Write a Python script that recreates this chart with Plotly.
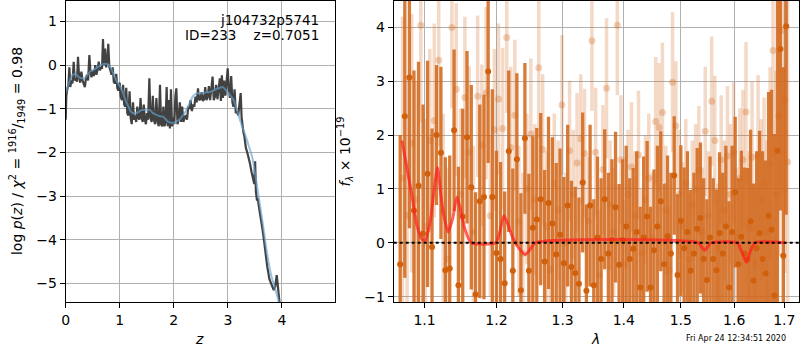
import plotly.graph_objects as go

# ---------------- left panel: log p(z) ----------------
z_pdf = [0.000, 0.012, 0.030, 0.050, 0.068, 0.085, 0.105, 0.125, 0.148, 0.168,
         0.188, 0.208, 0.228, 0.248, 0.268, 0.290, 0.312, 0.335, 0.355, 0.375,
         0.395, 0.415, 0.438, 0.458, 0.478, 0.500, 0.520, 0.548, 0.568, 0.590,
         0.612, 0.632, 0.652, 0.672, 0.690, 0.708, 0.728, 0.748, 0.768, 0.788,
         0.808, 0.828, 0.848, 0.870, 0.890, 0.910, 0.935, 0.955, 0.975, 0.998,
         1.018, 1.040, 1.062, 1.082, 1.102, 1.120, 1.140, 1.160, 1.182, 1.202,
         1.222, 1.245, 1.265, 1.285, 1.305, 1.325, 1.345, 1.365, 1.385, 1.405,
         1.425, 1.445, 1.465, 1.485, 1.505, 1.525, 1.548, 1.568, 1.590, 1.612,
         1.632, 1.655, 1.678, 1.700, 1.722, 1.745, 1.765, 1.785, 1.808, 1.828,
         1.848, 1.868, 1.888, 1.908, 1.928, 1.948, 1.968, 1.988, 2.010, 2.030,
         2.048, 2.068, 2.090, 2.112, 2.135, 2.155, 2.178, 2.200, 2.222, 2.245,
         2.268, 2.290, 2.310, 2.335, 2.358, 2.380, 2.402, 2.425, 2.448, 2.470,
         2.492, 2.515, 2.538, 2.560, 2.582, 2.605, 2.628, 2.650, 2.672, 2.695,
         2.718, 2.740, 2.762, 2.785, 2.808, 2.830, 2.852, 2.872, 2.890, 2.910,
         2.932, 2.955, 2.975, 2.998, 3.018, 3.040, 3.062, 3.085, 3.105, 3.125,
         3.148, 3.170, 3.192, 3.215, 3.238, 3.255, 3.270, 3.290, 3.305, 3.315,
         3.335, 3.360, 3.385, 3.410, 3.440, 3.470, 3.490, 3.505, 3.520, 3.540,
         3.555, 3.570, 3.590, 3.610, 3.640, 3.670, 3.700, 3.730, 3.770, 3.800,
         3.830, 3.850, 3.875, 3.905, 3.925, 3.945, 3.970]
logp_pdf = [-1.25, -0.70, -0.55, -0.45, -0.05, -0.50, -0.35, -0.42, 0.08, -0.35,
            -0.30, -0.38, 0.19, -0.28, -0.40, -0.15, -0.35, -0.45, -0.50, -0.30,
            -0.22, -0.35, 0.23, -0.15, -0.28, -0.12, -0.25, 0.00, -0.22, -0.10,
            0.08, -0.12, -0.05, -0.08, 0.60, 0.00, 0.38, -0.05, 0.10, 0.49,
            -0.05, -0.12, -0.22, -0.05, -0.38, -0.42, -0.20, -0.52, -0.58, -0.40,
            -0.72, -0.80, -0.45, -0.90, -0.95, -0.52, -1.10, -1.15, -0.60, -1.20,
            -1.35, -0.85, -1.25, -1.15, -1.30, -0.95, -1.20, -1.25, -0.75, -1.20,
            -1.30, -0.90, -1.25, -1.35, -1.10, -1.25, -0.30, -1.20, -1.30, -0.70,
            -1.25, -1.35, -0.75, -1.30, -1.40, -0.45, -1.35, -1.40, -0.95, -1.40,
            -1.30, -0.50, -1.40, -0.80, -1.45, -0.55, -1.40, -1.20, -1.35, -0.70,
            -0.53, -1.35, -1.25, -0.85, -1.30, -0.95, -1.30, -1.20, -1.15, -1.25,
            -0.95, -1.00, -0.80, -1.05, -0.90, -0.95, -0.72, -0.85, -0.53, -0.80,
            -0.78, -0.62, -0.82, -0.78, -0.50, -0.80, -0.72, -0.48, -0.80, -0.55,
            -0.26, -0.80, -0.72, -0.45, -0.78, -0.55, -0.30, -0.82, -0.23, -0.75,
            -0.35, -0.70, -0.45, -0.07, -0.55, -0.75, -0.25, -0.85, -0.95, -0.55,
            -1.10, -1.05, -1.15, -0.95, -0.64, -1.20, -1.40, -1.55, -1.62, -1.78,
            -1.90, -2.00, -2.10, -2.25, -2.45, -2.65, -2.72, -2.20, -2.90, -3.10,
            -3.05, -3.20, -3.35, -3.45, -3.75, -4.02, -4.35, -4.62, -4.90, -5.00,
            -5.12, -5.15, -5.08, -4.81, -5.05, -5.25, -5.60]

z_smooth = [0.00, 0.05, 0.10, 0.15, 0.20, 0.25, 0.30, 0.35, 0.40, 0.45,
            0.50, 0.55, 0.60, 0.65, 0.70, 0.75, 0.80, 0.85, 0.90, 0.95,
            1.00, 1.05, 1.10, 1.15, 1.20, 1.25, 1.30, 1.35, 1.40, 1.45,
            1.50, 1.55, 1.60, 1.65, 1.70, 1.75, 1.80, 1.85, 1.90, 1.95,
            2.00, 2.05, 2.10, 2.15, 2.20, 2.25, 2.30, 2.35, 2.40, 2.45,
            2.50, 2.55, 2.60, 2.65, 2.70, 2.75, 2.80, 2.85, 2.90, 2.95,
            3.00, 3.05, 3.10, 3.15, 3.20, 3.25, 3.30, 3.35, 3.40, 3.45,
            3.50, 3.55, 3.60, 3.65, 3.70, 3.75, 3.80, 3.85, 3.90, 3.95, 4.00]
logp_smooth = [-0.65, -0.45, -0.28, -0.20, -0.22, -0.28, -0.30, -0.30, -0.22, -0.15,
               -0.12, -0.08, -0.04, 0.00, 0.03, 0.03, 0.00, -0.10, -0.25, -0.38,
               -0.48, -0.60, -0.78, -0.92, -1.05, -1.10, -1.10, -1.07, -1.03, -1.02,
               -1.03, -1.02, -1.08, -1.12, -1.15, -1.17, -1.18, -1.24, -1.30, -1.32,
               -1.32, -1.28, -1.25, -1.18, -1.10, -0.98, -0.85, -0.72, -0.66, -0.64,
               -0.64, -0.64, -0.62, -0.62, -0.60, -0.57, -0.54, -0.52, -0.50, -0.55,
               -0.62, -0.70, -0.78, -0.95, -1.15, -1.35, -1.52, -1.70, -1.90, -2.10,
               -2.45, -2.85, -3.25, -3.65, -4.10, -4.48, -4.80, -5.02, -5.22, -5.45, -5.65]

# ---------------- right panel: spectrum ----------------
lam_a = [1.068, 1.074, 1.080, 1.086, 1.092, 1.098, 1.104, 1.110, 1.116, 1.122,
         1.128, 1.134, 1.140, 1.146, 1.152, 1.158, 1.164, 1.170, 1.176, 1.182,
         1.188, 1.194, 1.200, 1.206, 1.212, 1.218, 1.224, 1.230, 1.236, 1.242,
         1.248, 1.254, 1.260, 1.266, 1.272, 1.278, 1.284, 1.290, 1.296, 1.302,
         1.308, 1.314, 1.320, 1.326, 1.332, 1.338, 1.344, 1.350, 1.356, 1.362,
         1.368, 1.374, 1.380, 1.386, 1.392, 1.398, 1.404, 1.410, 1.416, 1.422,
         1.428, 1.434, 1.440, 1.446, 1.452, 1.458, 1.464, 1.470, 1.476, 1.482,
         1.488, 1.494, 1.500, 1.506, 1.512, 1.518, 1.524, 1.530, 1.536, 1.542,
         1.548, 1.554, 1.560, 1.566, 1.572, 1.578, 1.584, 1.590, 1.596, 1.602,
         1.608, 1.614, 1.620, 1.626, 1.632, 1.638, 1.644, 1.650, 1.656, 1.662,
         1.668, 1.674, 1.680, 1.686, 1.692, 1.698, 1.704]
flux_a = [-0.40, 2.35, 3.07, 0.60, 1.06, 0.17, 1.28, -0.08, 2.00, 1.67,
          -0.51, -0.48, 2.09, -0.79, 0.49, 1.96, 1.03, -0.96, 0.77, 0.85,
          3.18, 0.85, -0.19, -0.30, -0.75, 1.70, -0.52, 1.55, -0.88, 1.94,
          -0.52, 0.28, 0.43, 0.81, -0.35, 0.74, 0.36, -0.22, 0.15, -0.38,
          0.69, -0.45, -0.56, -0.76, 1.12, -0.89, 0.69, -0.79, 0.10, -0.30,
          0.81, -0.20, 0.05, 0.66, -0.41, 0.05, 0.30, -0.30, -0.11, 0.20,
          -0.83, 0.10, 0.49, -0.83, -0.14, 0.30, 0.77, -0.40, 0.12, -0.20,
          1.25, -0.60, 0.41, -0.10, 0.20, -0.52, -0.20, 0.26, 0.46, -0.30,
          -0.69, 0.10, -0.30, -0.51, 0.18, -0.20, 0.30, -0.83, 0.20, 0.94,
          -0.40, 0.11, -0.20, -0.31, 0.40, -0.70, -0.10, 0.18, -0.30, -0.57,
          0.50, 0.24, -0.98, 1.71, 3.60, -0.24, 4.02]
err_a = [2.4, 3.0, 2.8, 2.6, 2.3, 2.4, 2.1, 2.2, 1.3, 1.6,
         2.1, 2.1, 1.5, 2.2, 2.0, 1.6, 1.9, 1.9, 1.8, 1.9,
         1.7, 2.0, 1.9, 1.8, 1.7, 1.5, 1.9, 1.6, 1.8, 1.4,
         1.8, 1.7, 1.7, 1.6, 1.7, 1.6, 1.6, 1.7, 1.6, 1.6,
         1.5, 1.6, 1.6, 1.6, 1.3, 1.6, 1.5, 1.6, 1.5, 1.5,
         1.3, 1.5, 1.5, 1.4, 1.5, 1.5, 1.5, 1.5, 1.5, 1.5,
         1.5, 1.5, 1.4, 1.5, 1.5, 1.5, 1.3, 1.5, 1.5, 1.5,
         1.1, 1.5, 1.4, 1.5, 1.5, 1.5, 1.5, 1.5, 1.4, 1.5,
         1.5, 1.5, 1.5, 1.5, 1.5, 1.5, 1.5, 1.6, 1.6, 1.4,
         1.6, 1.6, 1.6, 1.7, 1.7, 1.8, 1.8, 1.9, 2.0, 2.1,
         2.3, 2.6, 3.0, 3.2, 3.0, 3.5, 3.5]

lam_b = [1.071, 1.077, 1.083, 1.089, 1.095, 1.101, 1.107, 1.113, 1.119, 1.125,
         1.131, 1.137, 1.143, 1.149, 1.155, 1.161, 1.167, 1.173, 1.179, 1.185,
         1.191, 1.197, 1.203, 1.209, 1.215, 1.221, 1.227, 1.233, 1.239, 1.245,
         1.251, 1.257, 1.263, 1.269, 1.275, 1.281, 1.287, 1.293, 1.299, 1.305,
         1.311, 1.317, 1.323, 1.329, 1.335, 1.341, 1.347, 1.353, 1.359, 1.365,
         1.371, 1.377, 1.383, 1.389, 1.395, 1.401, 1.407, 1.413, 1.419, 1.425,
         1.431, 1.437, 1.443, 1.449, 1.455, 1.461, 1.467, 1.473, 1.479, 1.485,
         1.491, 1.497, 1.503, 1.509, 1.515, 1.521, 1.527, 1.533, 1.539, 1.545,
         1.551, 1.557, 1.563, 1.569, 1.575, 1.581, 1.587, 1.593, 1.599, 1.605,
         1.611, 1.617, 1.623, 1.629, 1.635, 1.641, 1.647, 1.653, 1.659, 1.665,
         1.671, 1.677, 1.683, 1.689, 1.695, 1.701, 1.707]
flux_b = [1.20, 0.50, 1.85, 0.80, 4.04, 0.30, 1.90, 2.27, 3.39, 0.60,
          -0.30, 4.00, 2.85, 0.90, 2.70, 1.68, 0.20, 2.72, 1.81, 2.78,
          0.50, 2.10, 2.67, 2.12, 3.81, 1.77, 2.37, 0.40, -0.20, 1.00,
          2.02, 0.80, 3.25, 1.73, 0.30, -0.50, 1.10, 0.60, 2.56, 0.00,
          1.71, 0.90, 1.48, 1.93, 1.66, 0.40, 3.75, 1.68, -0.60, 1.36,
          2.87, 0.70, 0.20, 4.04, 1.54, -0.40, 0.90, 1.41, 0.50, 1.63,
          -0.20, 0.80, 1.20, 0.10, 2.25, 2.14, 2.42, 0.60, -0.50, 2.98,
          2.17, 0.90, 0.30, 1.10, -0.30, 0.70, 1.00, 1.34, 0.20, 2.07,
          0.50, 2.63, 1.90, -0.10, 1.54, 0.60, 1.61, 0.90, 1.68, 0.10,
          1.20, 1.54, 2.43, 0.30, 1.59, -0.40, 1.61, 0.80, 1.10, 0.20,
          1.46, 3.57, 0.90, 2.36, 3.94, 2.64, 1.50]
err_b = [3.0, 2.6, 2.4, 2.2, 1.8, 2.0, 1.7, 1.8, 1.6, 1.8,
         1.7, 1.5, 1.6, 1.6, 1.5, 1.6, 1.6, 1.5, 1.5, 1.6,
         1.5, 1.5, 1.4, 1.5, 1.4, 1.5, 1.4, 1.4, 1.5, 1.4,
         1.4, 1.4, 1.3, 1.4, 1.4, 1.3, 1.3, 1.3, 1.3, 1.3,
         1.3, 1.2, 1.3, 1.2, 1.2, 1.2, 1.3, 1.2, 1.2, 1.2,
         1.3, 1.2, 1.2, 1.3, 1.2, 1.2, 1.2, 1.2, 1.2, 1.2,
         1.2, 1.2, 1.2, 1.2, 1.2, 1.2, 1.3, 1.2, 1.2, 1.3,
         1.2, 1.2, 1.2, 1.2, 1.2, 1.2, 1.2, 1.2, 1.2, 1.2,
         1.2, 1.2, 1.2, 1.2, 1.2, 1.3, 1.3, 1.3, 1.3, 1.3,
         1.3, 1.3, 1.3, 1.4, 1.4, 1.4, 1.5, 1.5, 1.6, 1.7,
         1.8, 2.0, 2.3, 2.6, 3.0, 3.2, 3.5]

lam_model = [1.0703, 1.076, 1.0833, 1.090, 1.0967, 1.1007, 1.1075, 1.1125, 1.1173, 1.121,
             1.125, 1.1318, 1.138, 1.144, 1.150, 1.155, 1.1636, 1.199, 1.2048, 1.2108,
             1.2165, 1.2228, 1.233, 1.2427, 1.250, 1.258, 1.532, 1.538, 1.5437, 1.550,
             1.5555, 1.606, 1.614, 1.624, 1.632, 1.641, 1.702]
flux_model = [1.90, 1.45, 0.88, 0.32, 0.06, 0.04, 0.39, 0.95, 1.40, 1.00,
              0.57, 0.20, 0.45, 0.85, 0.55, 0.26, 0.00, 0.00, 0.20, 0.50,
              0.35, 0.13, -0.10, -0.22, -0.12, 0.00, 0.00, -0.08, -0.14, -0.07,
              0.00, 0.00, -0.15, -0.36, -0.15, 0.00, 0.00]

left_xticks = [0, 1, 2, 3, 4]
right_xticks = [1.1, 1.2, 1.3, 1.4, 1.5, 1.6, 1.7]

FONT = "DejaVu Sans"
ORANGE = "rgba(210,105,30,{})"

fig = go.Figure()

fig.add_trace(go.Scatter(x=z_pdf, y=logp_pdf, mode="lines",
                         line=dict(color="rgba(45,45,45,0.9)", width=2.2),
                         xaxis="x", yaxis="y", showlegend=False))
fig.add_trace(go.Scatter(x=z_smooth, y=logp_smooth, mode="lines",
                         line=dict(color="rgba(100,160,205,0.65)", width=2.0, shape="spline"),
                         xaxis="x", yaxis="y", showlegend=False))

fig.add_trace(go.Scatter(x=lam_b, y=flux_b, mode="markers",
                         marker=dict(size=7, color=ORANGE.format(0.3), line=dict(width=0)),
                         error_y=dict(type="data", array=err_b, thickness=3.5, width=0,
                                      color=ORANGE.format(0.25)),
                         xaxis="x2", yaxis="y2", showlegend=False))
fig.add_trace(go.Scatter(x=lam_a, y=flux_a, mode="markers",
                         marker=dict(size=6, color="rgb(208,96,12)", line=dict(width=0)),
                         error_y=dict(type="data", array=err_a, thickness=3.3, width=0,
                                      color=ORANGE.format(0.88)),
                         xaxis="x2", yaxis="y2", showlegend=False))
fig.add_trace(go.Scatter(x=lam_model, y=flux_model, mode="lines",
                         line=dict(color="rgba(255,30,30,0.7)", width=3, shape="spline", smoothing=0.6),
                         xaxis="x2", yaxis="y2", showlegend=False))

fig.add_shape(type="line", xref="x2 domain", yref="y2", x0=0, x1=1, y0=0, y1=0,
              line=dict(color="black", width=2, dash="dot"), layer="above")

axis_common = dict(showline=True, mirror=True, linecolor="black", linewidth=1,
                   ticks="outside", ticklen=5, tickwidth=1, tickcolor="black",
                   showgrid=True, gridcolor="#b0b0b0", gridwidth=1, zeroline=False,
                   tickfont=dict(family=FONT, size=14, color="black"))

fig.update_layout(
    width=800, height=350,
    margin=dict(l=0, r=0, t=0, b=0),
    paper_bgcolor="white", plot_bgcolor="white",
    font=dict(family=FONT, size=14, color="black"),
    xaxis=dict(domain=[0.0775, 0.4163], range=[0, 4.99], tickmode="array",
               tickvals=left_xticks, anchor="y", **axis_common),
    yaxis=dict(domain=[0.1314, 0.9971], range=[-5.43, 1.47], dtick=1, tick0=0,
               anchor="x", **axis_common),
    xaxis2=dict(domain=[0.4896, 0.9984], type="log", range=[0.02518, 0.23805],
                tickmode="array", tickvals=right_xticks,
                ticktext=[str(t) for t in right_xticks], anchor="y2", **axis_common),
    yaxis2=dict(domain=[0.1314, 0.9971], range=[-1.105, 4.49], dtick=1, tick0=0,
                anchor="x2", **axis_common),
)

ann = [
    dict(text="j104732p5741", x=319 / 800, y=1 - 20 / 350, xanchor="right", yanchor="middle",
         font=dict(size=13.5)),
    dict(text="ID=233\u00a0\u00a0\u00a0\u00a0z=0.7051", x=319 / 800, y=1 - 35 / 350,
         xanchor="right", yanchor="middle", font=dict(size=13.5)),
    dict(text="<i>z</i>", x=196 / 800, y=1 - 341 / 350, xanchor="center", yanchor="middle",
         font=dict(size=14)),
    dict(text="<i>λ</i>", x=594 / 800, y=1 - 341 / 350, xanchor="center", yanchor="middle",
         font=dict(size=14)),
    dict(text="log <i>p</i>(<i>z</i>) / <i>χ</i><sup>2</sup> = <sup>1916</sup>/<sub>1949</sub> = 0.98",
         x=13 / 800, y=1 - 152 / 350, xanchor="center", yanchor="middle", textangle=-90,
         font=dict(size=14)),
    dict(text="<i>f</i><sub><i>λ</i></sub> × 10<sup>−19</sup>",
         x=343 / 800, y=1 - 152 / 350, xanchor="center", yanchor="middle", textangle=-90,
         font=dict(size=14)),
    dict(text="Fri Apr 24 12:34:51 2020", x=788 / 800, y=1 - 340 / 350, xanchor="right",
         yanchor="middle", font=dict(size=8)),
]
for a in ann:
    a.update(xref="paper", yref="paper", showarrow=False)
    fig.add_annotation(**a)

fig.write_html("out.html",
               config={"displayModeBar": False},
               post_script="document.body.style.margin='0';document.body.style.padding='0';"
                           "document.body.style.overflow='hidden';")
